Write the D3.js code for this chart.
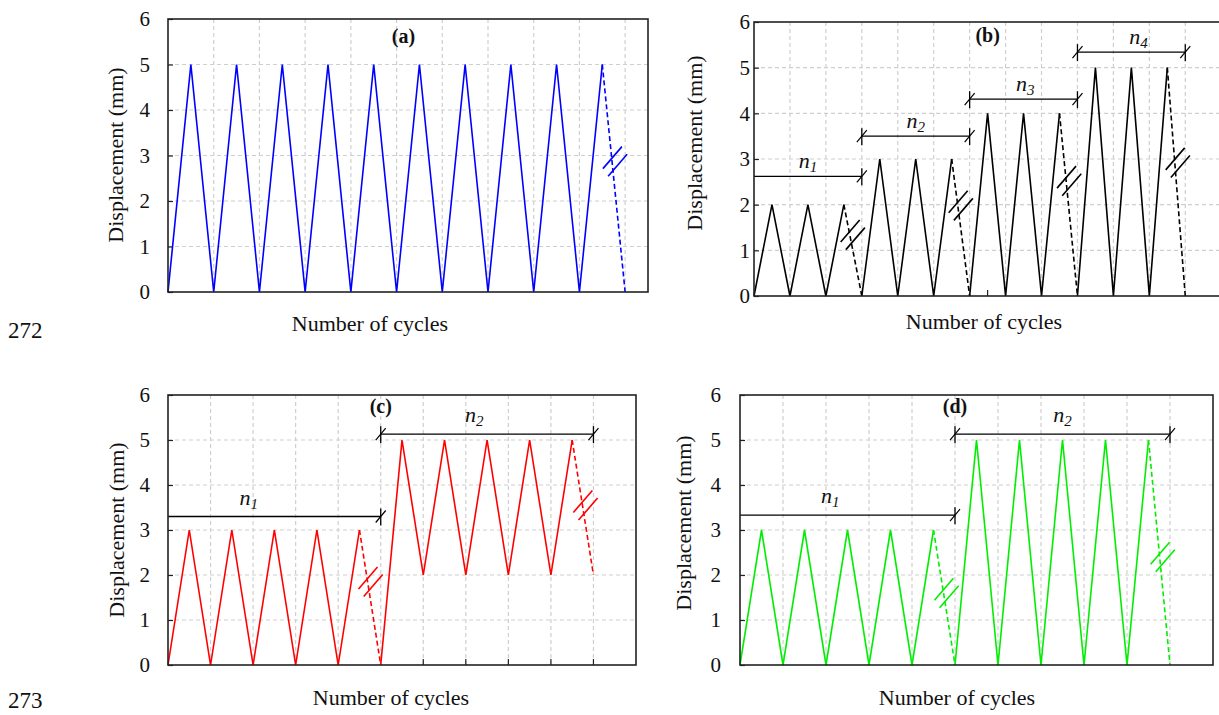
<!DOCTYPE html>
<html>
<head>
<meta charset="utf-8">
<script src="https://cdn.jsdelivr.net/npm/d3@7"></script>
<style>
  body { margin: 0; background: #fff; }
</style>
</head>
<body>
<div id="container"></div>
<script>
/* DATA (turning points, one every half cycle) */
const dispA = [0,5,0,5,0,5,0,5,0,5,0,5,0,5,0,5,0,5,0,5,0];
const dispB = [0,2,0,2,0,2,0, 3,0,3,0,3,0, 4,0,4,0,4,0, 5,0,5,0,5,0];
const dispC = [0,3,0,3,0,3,0,3,0,3,0, 5,2,5,2,5,2,5,2,5,2];
const dispD = [0,3,0,3,0,3,0,3,0,3,0, 5,0,5,0,5,0,5,0,5,0];

// dashed segments (index of the segment start) and where the break mark sits
const dashedA = [19];
const dashedB = [5, 11, 17, 23];
const dashedC = [9, 19];
const dashedD = [9, 19];
const breakA = [2.87];
const breakB = [1.34, 1.98, 2.52, 2.92];
const breakC = [1.85, 3.55];
const breakD = [1.6, 2.4];

// n_i brackets
const bracketStartB = [0, 3, 6, 9];
const bracketEndB = [3, 6, 9, 12];
const bracketLevelB = [2.62, 3.5, 4.31, 5.34];
const bracketLabelB = ["1", "2", "3", "4"];
const bracketLabelXB = [1.5, 4.5, 7.55, 10.7];

const bracketStartC = [0, 5];
const bracketEndC = [5, 10];
const bracketLevelC = [3.3, 5.13];
const bracketLabelC = ["1", "2"];
const bracketLabelXC = [1.9, 7.2];

const bracketStartD = [0, 5];
const bracketEndD = [5, 10];
const bracketLevelD = [3.33, 5.13];
const bracketLabelD = ["1", "2"];
const bracketLabelXD = [2.1, 7.5];

const yTicks = [0, 1, 2, 3, 4, 5, 6];
const xTickB = [6.5];
const xTickC = [6, 7, 8, 9, 10];

/* CONSTANTS */
const width = 1219;
const height = 715;
const serif = "Times New Roman, Times, Liberation Serif, Tinos, Noto Serif, DejaVu Serif, serif";

const svg = d3.select("#container")
  .append("svg")
  .attr("width", width)
  .attr("height", height)
  .style("font-family", serif);

svg.append("rect").attr("width", width).attr("height", height).attr("fill", "#fff");

const panels = [
  { id: "a", disp: dispA, dashed: dashedA, breaks: breakA, color: "#0000ff",
    box: { l: 168, r: 648, t: 19, b: 292 }, xMax: 10.5,
    brackets: null, xTicks: [],
    label: "(a)", labelX: 5.15, labelDy: 24,
    tickEnd: 150, yTitleX: 123, yTitleY: 155, xTitleX: 370, xTitleY: 331 },
  { id: "b", disp: dispB, dashed: dashedB, breaks: breakB, color: "#000000",
    box: { l: 754, r: 1232, t: 22, b: 296 }, xMax: 13.3,
    brackets: { s: bracketStartB, e: bracketEndB, lv: bracketLevelB, lab: bracketLabelB, lx: bracketLabelXB, gap: 8 },
    xTicks: xTickB,
    label: "(b)", labelX: 6.5, labelDy: 20,
    tickEnd: 750, yTitleX: 702, yTitleY: 143, xTitleX: 984, xTitleY: 329 },
  { id: "c", disp: dispC, dashed: dashedC, breaks: breakC, color: "#ff0000",
    box: { l: 168, r: 636, t: 395, b: 665 }, xMax: 11,
    brackets: { s: bracketStartC, e: bracketEndC, lv: bracketLevelC, lab: bracketLabelC, lx: bracketLabelXC, gap: 12 },
    xTicks: xTickC,
    label: "(c)", labelX: 5, labelDy: 18,
    tickEnd: 150, yTitleX: 124, yTitleY: 530, xTitleX: 391, xTitleY: 705 },
  { id: "d", disp: dispD, dashed: dashedD, breaks: breakD, color: "#00ee00",
    box: { l: 740, r: 1213, t: 395, b: 665 }, xMax: 11,
    brackets: { s: bracketStartD, e: bracketEndD, lv: bracketLevelD, lab: bracketLabelD, lx: bracketLabelXD, gap: 12 },
    xTicks: [],
    label: "(d)", labelX: 5, labelDy: 18,
    tickEnd: 721, yTitleX: 691, yTitleY: 523, xTitleX: 957, xTitleY: 705 }
];

panels.forEach(p => drawPanel(p));

function drawPanel(p) {
  const { l, r, t, b } = p.box;

  const xScale = d3.scaleLinear().domain([0, p.xMax]).range([l, r]);
  const yScale = d3.scaleLinear().domain([0, 6]).range([b, t]);

  const g = svg.append("g").attr("class", "panel-" + p.id);

  // grid
  const gridX = d3.range(1, Math.floor(p.xMax) + 1).filter(v => xScale(v) < r - 1);
  g.selectAll(".gx").data(gridX).join("line")
    .attr("x1", d => xScale(d)).attr("x2", d => xScale(d))
    .attr("y1", t).attr("y2", b)
    .attr("stroke", "#cfcfcf").attr("stroke-width", 1.2).attr("stroke-dasharray", "4,3");

  g.selectAll(".gy").data(yTicks.filter(v => v > 0 && v < 6)).join("line")
    .attr("x1", l).attr("x2", r)
    .attr("y1", d => yScale(d)).attr("y2", d => yScale(d))
    .attr("stroke", "#cfcfcf").attr("stroke-width", 1.2).attr("stroke-dasharray", "4,3");

  // y axis (inner ticks, labels on the left)
  const yAxis = d3.axisRight(yScale).tickValues(yTicks).tickSize(5).tickFormat("");
  g.append("g").attr("transform", `translate(${l},0)`).call(yAxis)
    .call(s => s.select(".domain").remove())
    .call(s => s.selectAll("line").attr("stroke", "#222").attr("stroke-width", 1.2));

  g.selectAll(".ylab").data(yTicks).join("text")
    .attr("x", p.tickEnd).attr("y", d => yScale(d))
    .attr("dy", "0.35em").attr("text-anchor", "end")
    .style("font-family", serif)
    .style("font-size", "21px").attr("fill", "#111")
    .text(d => d);

  // bottom ticks (only where visible in the picture)
  g.selectAll(".xt").data(p.xTicks).join("line")
    .attr("x1", d => xScale(d)).attr("x2", d => xScale(d))
    .attr("y1", b).attr("y2", b - 6)
    .attr("stroke", "#222").attr("stroke-width", 1.2);

  // zigzag
  const pts = p.disp.map((v, i) => [i * 0.5, v]);
  const segs = d3.pairs(pts).map((pair, i) => ({ i, a: pair[0], z: pair[1] }));

  const solid = [];
  let run = null;
  segs.forEach(s => {
    if (p.dashed.includes(s.i)) { run = null; return; }
    if (!run) { run = [s.a]; solid.push(run); }
    run.push(s.z);
  });

  const line = d3.line().x(d => xScale(d[0])).y(d => yScale(d[1]));

  g.selectAll(".solid").data(solid).join("path")
    .attr("d", line).attr("fill", "none")
    .attr("stroke", p.color).attr("stroke-width", 1.6).attr("stroke-linejoin", "miter");

  const dashedSegs = segs.filter(s => p.dashed.includes(s.i));
  g.selectAll(".dash").data(dashedSegs).join("path")
    .attr("d", s => line([s.a, s.z])).attr("fill", "none")
    .attr("stroke", p.color).attr("stroke-width", 1.6).attr("stroke-dasharray", "5,3");

  // break marks
  dashedSegs.forEach((s, k) => {
    const yb = p.breaks[k];
    const tt = (yb - s.a[1]) / (s.z[1] - s.a[1]);
    const cx = xScale(s.a[0] + tt * (s.z[0] - s.a[0])) + 3;
    const cy = yScale(yb);
    [[-2.6, -3.8], [2.6, 3.8]].forEach(o => {
      g.append("line")
        .attr("x1", cx + o[0] - 9.5).attr("y1", cy + o[1] + 11)
        .attr("x2", cx + o[0] + 9.5).attr("y2", cy + o[1] - 11)
        .attr("stroke", p.color).attr("stroke-width", 1.6);
    });
  });

  // brackets
  if (p.brackets) {
    const br = p.brackets;
    br.s.forEach((s0, k) => {
      const x1 = xScale(s0), x2 = xScale(br.e[k]), y = yScale(br.lv[k]);
      g.append("line").attr("x1", x1).attr("x2", x2).attr("y1", y).attr("y2", y)
        .attr("stroke", "#000").attr("stroke-width", 1.3);
      [x1, x2].filter(x => x > l + 1).forEach(x => {
        g.append("line").attr("x1", x).attr("x2", x).attr("y1", y - 8).attr("y2", y + 9)
          .attr("stroke", "#000").attr("stroke-width", 1.3);
        g.append("line").attr("x1", x - 5).attr("x2", x + 5).attr("y1", y + 6).attr("y2", y - 6)
          .attr("stroke", "#000").attr("stroke-width", 1.2);
      });
      const txt = g.append("text")
        .attr("x", xScale(br.lx[k])).attr("y", y - br.gap)
        .attr("text-anchor", "middle")
        .style("font-family", serif)
        .style("font-size", "22px").style("font-style", "italic").attr("fill", "#111");
      txt.append("tspan").text("n");
      txt.append("tspan").attr("dy", 4).style("font-size", "15px").text(br.lab[k]);
    });
  }

  // frame
  g.append("rect")
    .attr("x", l).attr("y", t).attr("width", r - l).attr("height", b - t)
    .attr("fill", "none").attr("stroke", "#222").attr("stroke-width", 1.6);

  // panel label
  g.append("text")
    .attr("x", xScale(p.labelX)).attr("y", t + p.labelDy)
    .attr("text-anchor", "middle")
    .style("font-family", serif)
    .style("font-size", "20px").style("font-weight", "bold").attr("fill", "#111")
    .text(p.label);

  // axis titles
  g.append("text")
    .attr("x", p.xTitleX).attr("y", p.xTitleY)
    .attr("text-anchor", "middle")
    .style("font-family", serif)
    .style("font-size", "22px").attr("fill", "#111")
    .text("Number of cycles");

  g.append("text")
    .attr("transform", `translate(${p.yTitleX},${p.yTitleY}) rotate(-90)`)
    .attr("text-anchor", "middle")
    .style("font-family", serif)
    .style("font-size", "22px").attr("fill", "#111")
    .text("Displacement (mm)");
}

// line numbers of the source page
svg.append("text").attr("x", 8).attr("y", 338)
  .style("font-family", serif)
  .style("font-size", "23px").attr("fill", "#111").text("272");
svg.append("text").attr("x", 8).attr("y", 708)
  .style("font-family", serif)
  .style("font-size", "23px").attr("fill", "#111").text("273");
</script>
</body>
</html>
